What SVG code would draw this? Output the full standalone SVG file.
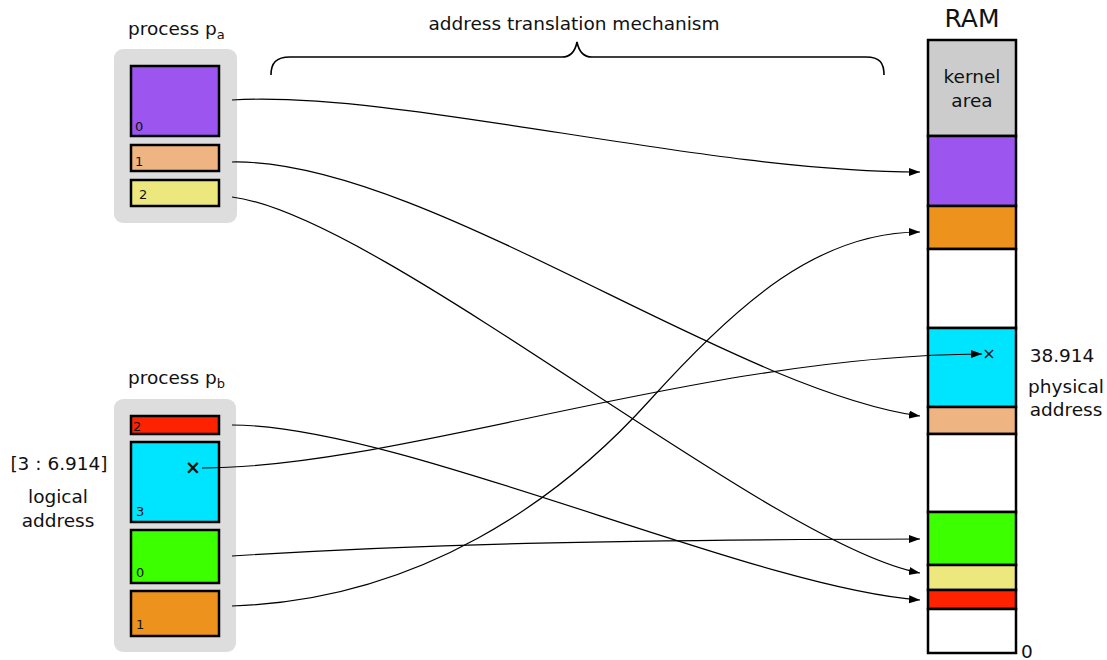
<svg xmlns="http://www.w3.org/2000/svg" width="1107" height="660" viewBox="0 0 1107 660">
<defs>
<style>
text{font-family:"DejaVu Sans","Liberation Sans",sans-serif;fill:#111}
.bg{fill:#dddddd}
.blk{stroke:#000;stroke-width:2.5}
.lbl{font-size:18.5px}
.num{font-size:13px}
.con{fill:none;stroke:#000;stroke-width:1.2}
.brace{fill:none;stroke:#000;stroke-width:1.6}
.mk{font-size:19px;text-anchor:middle;font-weight:bold}
</style>
<marker id="arr" markerUnits="userSpaceOnUse" markerWidth="12" markerHeight="9" refX="11" refY="4" orient="auto">
<path d="M0,0 L11,4 L0,8 z" fill="#000"/>
</marker>
</defs>

<text x="574" y="30" class="lbl" text-anchor="middle">address translation mechanism</text>
<path class="brace" d="M271,75 C271,63 276,57 290,57 L562,57 C570,57 575,52 577,42 C579,52 584,57 592,57 L866,57 C880,57 884,63 884,75"/>

<g id="process-a">
<text x="128" y="35" class="lbl">process p<tspan font-size="13" dy="4">a</tspan></text>
<rect class="bg" x="114" y="49" width="123" height="174" rx="9"/>
<rect class="blk" x="131" y="66" width="88" height="70" fill="#9c55ef"/>
<text x="135" y="131" class="num">0</text>
<rect class="blk" x="131" y="145" width="88" height="26" fill="#eeb482"/>
<text x="135" y="166" class="num">1</text>
<rect class="blk" x="131" y="180" width="88" height="26" fill="#ece87e"/>
<text x="139" y="199" class="num">2</text>
</g>

<g id="process-b">
<text x="128" y="384" class="lbl">process p<tspan font-size="13" dy="4">b</tspan></text>
<rect class="bg" x="114" y="399" width="122" height="253" rx="9"/>
<rect class="blk" x="131" y="416" width="88" height="18" fill="#ff2200"/>
<text x="133" y="431" class="num">2</text>
<rect class="blk" x="131" y="442" width="88" height="80" fill="#00e5ff"/>
<text x="136" y="516" class="num">3</text>
<text x="193" y="474" class="mk">×</text>
<rect class="blk" x="131" y="530" width="88" height="53" fill="#3cff00"/>
<text x="136" y="577" class="num">0</text>
<rect class="blk" x="131" y="591" width="88" height="45" fill="#ee921e"/>
<text x="136" y="629" class="num">1</text>
</g>

<g id="logical-label">
<text x="59" y="470" class="lbl" text-anchor="middle">[3 : 6.914]</text>
<text x="58" y="503" class="lbl" text-anchor="middle">logical</text>
<text x="58" y="527" class="lbl" text-anchor="middle">address</text>
</g>

<g id="ram">
<text x="972" y="27" font-size="25" text-anchor="middle">RAM</text>
<rect class="blk" x="928" y="40" width="88" height="96" fill="#cccccc"/>
<text x="972" y="83" class="lbl" text-anchor="middle">kernel</text>
<text x="972" y="107" class="lbl" text-anchor="middle">area</text>
<rect class="blk" x="928" y="136" width="88" height="70" fill="#9c55ef"/>
<rect class="blk" x="928" y="206" width="88" height="43" fill="#ee921e"/>
<rect class="blk" x="928" y="249" width="88" height="79" fill="#ffffff"/>
<rect class="blk" x="928" y="328" width="88" height="79" fill="#00e5ff"/>
<text x="989" y="359" font-size="16" text-anchor="middle">×</text>
<rect class="blk" x="928" y="407" width="88" height="27" fill="#eeb482"/>
<rect class="blk" x="928" y="434" width="88" height="78" fill="#ffffff"/>
<rect class="blk" x="928" y="512" width="88" height="53" fill="#3cff00"/>
<rect class="blk" x="928" y="565" width="88" height="25" fill="#ece87e"/>
<rect class="blk" x="928" y="590" width="88" height="19" fill="#ff2200"/>
<rect class="blk" x="928" y="609" width="88" height="44" fill="#ffffff"/>
<text x="1021" y="658" class="lbl">0</text>
</g>

<g id="physical-label">
<text x="1062" y="362" class="lbl" text-anchor="middle">38.914</text>
<text x="1066" y="393" class="lbl" text-anchor="middle">physical</text>
<text x="1066" y="416" class="lbl" text-anchor="middle">address</text>
</g>

<g id="connectors">
<path class="con" marker-end="url(#arr)" d="M232,100 C400,90 700,172 920,172"/>
<path class="con" marker-end="url(#arr)" d="M232,162 C420,158 730,390 920,416"/>
<path class="con" marker-end="url(#arr)" d="M232,197 C380,215 770,545 920,573"/>
<path class="con" marker-end="url(#arr)" d="M232,425 C400,425 752,588 920,600"/>
<path class="con" marker-end="url(#arr)" d="M202,468 C400,468 700,355 982,354"/>
<path class="con" marker-end="url(#arr)" d="M232,556 C420,544 600,540 920,539"/>
<path class="con" marker-end="url(#arr)" d="M232,606 C420,600 560,500 650,400 C740,300 820,232 920,232"/>
</g>
</svg>
